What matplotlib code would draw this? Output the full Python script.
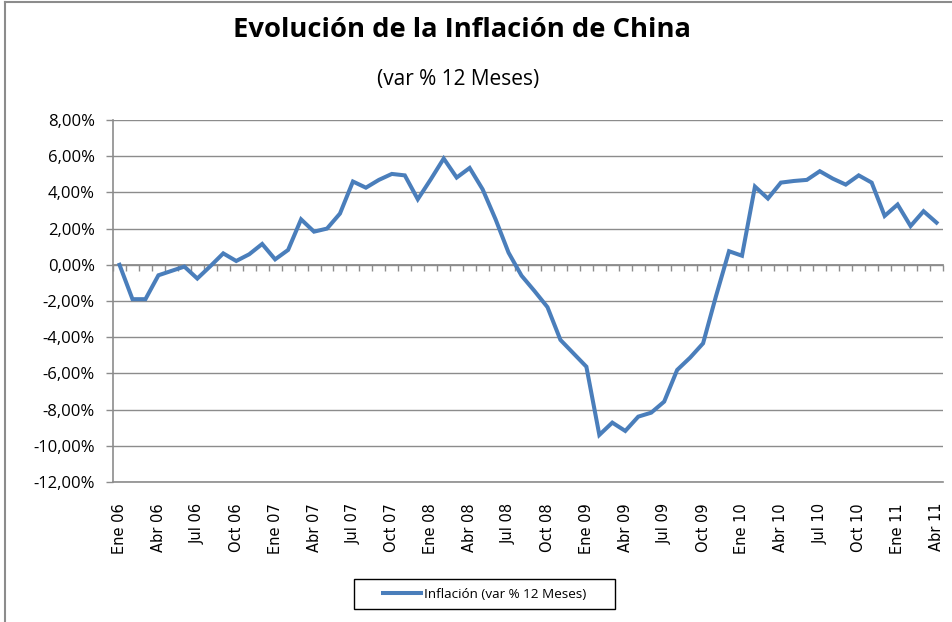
import numpy as np
import matplotlib
matplotlib.use("Agg")
import matplotlib.pyplot as plt
import matplotlib.transforms as mtransforms
from matplotlib.lines import Line2D
from matplotlib.patches import Rectangle

# Inflación China, var % 12 meses, Ene 06 - Abr 11
inflacion = [0.00, -1.90, -1.90, -0.58, -0.34, -0.10, -0.76, -0.08, 0.63, 0.21,
             0.58, 1.15, 0.30, 0.82, 2.51, 1.83, 2.00, 2.83, 4.60, 4.26,
             4.69, 5.02, 4.94, 3.62, 4.72, 5.87, 4.82, 5.35, 4.17, 2.51,
             0.67, -0.60, -1.45, -2.34, -4.15, -4.89, -5.63, -9.40, -8.72, -9.18,
             -8.39, -8.17, -7.56, -5.81, -5.13, -4.34, -1.72, 0.75, 0.50, 4.32,
             3.66, 4.54, 4.63, 4.69, 5.17, 4.76, 4.43, 4.94, 4.54, 2.70,
             3.33, 2.14, 2.96, 2.33]
etiquetas = ['Ene 06', 'Abr 06', 'Jul 06', 'Oct 06', 'Ene 07', 'Abr 07', 'Jul 07',
             'Oct 07', 'Ene 08', 'Abr 08', 'Jul 08', 'Oct 08', 'Ene 09', 'Abr 09',
             'Jul 09', 'Oct 09', 'Ene 10', 'Abr 10', 'Jul 10', 'Oct 10', 'Ene 11',
             'Abr 11']
y_ticks = [8, 6, 4, 2, 0, -2, -4, -6, -8, -10, -12]

gris = '#8c8c8c'
azul = '#4a7ebb'

fig = plt.figure(figsize=(9.53, 6.22), dpi=100)
ax = fig.add_axes([0.1186, 0.2251, 0.8709, 0.582])

x = np.arange(len(inflacion))
ax.plot(x, inflacion, color=azul, lw=2.9, solid_joinstyle='miter',
        label='Inflación (var % 12 Meses)', zorder=3)

ax.set_xlim(-0.5, len(inflacion) - 0.5)
ax.set_ylim(-12, 8)
ax.set_yticks(y_ticks)
ax.set_yticklabels([('%.2f%%' % v).replace('.', ',') for v in y_ticks])
ax.yaxis.set_tick_params(labelsize=12, length=5, width=1, color=gris, pad=8)
for t in ax.get_yticklabels():
    t.set_fontfamily('Open Sans')
ax.grid(axis='y', color=gris, lw=1.0)
ax.set_axisbelow(True)

# etiquetas de categoría, giradas y alineadas por arriba
ax.set_xticks([])
trans = mtransforms.offset_copy(ax.get_xaxis_transform(), fig=fig, y=-21, units='dots')
for xi, lab in zip(x[::3], etiquetas):
    ax.text(xi, 0, lab, transform=trans, rotation=90, rotation_mode='anchor',
            ha='right', va='center', fontsize=10.5, family='DejaVu Sans')

for s in ['top', 'right']:
    ax.spines[s].set_visible(False)
for s in ['left', 'bottom']:
    ax.spines[s].set_color(gris)
    ax.spines[s].set_linewidth(1.2)

# eje de categorías cruzando en 0
eje0 = ax.secondary_xaxis(0.6)
eje0.set_xticks(np.arange(len(inflacion) + 1) - 0.5)
eje0.xaxis.set_ticks_position('bottom')
eje0.tick_params(direction='out', length=4.5, width=1, color=gris,
                 labelbottom=False, labeltop=False)
for s in eje0.spines.values():
    s.set_color(gris)
    s.set_linewidth(1.3)

fig.text(0.485, 1 - 30 / 622, 'Evolución de la Inflación de China',
         ha='center', va='center', fontsize=19.7, fontweight='bold', family='Open Sans')
fig.text(0.481, 1 - 79 / 622, '(var % 12 Meses)',
         ha='center', va='center', fontsize=15, family='Open Sans')

leg = ax.legend(loc='center', bbox_to_anchor=(484.5 / 953, 1 - 594 / 622),
                bbox_transform=fig.transFigure, frameon=False,
                prop={'family': 'Open Sans', 'size': 9.7}, handlelength=2.8,
                handletextpad=0.2)
fig.patches.append(Rectangle((354 / 953, 1 - 609 / 622), 261 / 953, 30 / 622,
                             transform=fig.transFigure, fill=False,
                             edgecolor='black', lw=1))

# borde del área del gráfico
fig.add_artist(Line2D([5 / 953, 1], [1 - 1.5 / 622] * 2, color=gris, lw=1.5))
fig.add_artist(Line2D([5 / 953] * 2, [0, 1 - 1.5 / 622], color=gris, lw=1.5))

fig.savefig('out.png', dpi=100)
